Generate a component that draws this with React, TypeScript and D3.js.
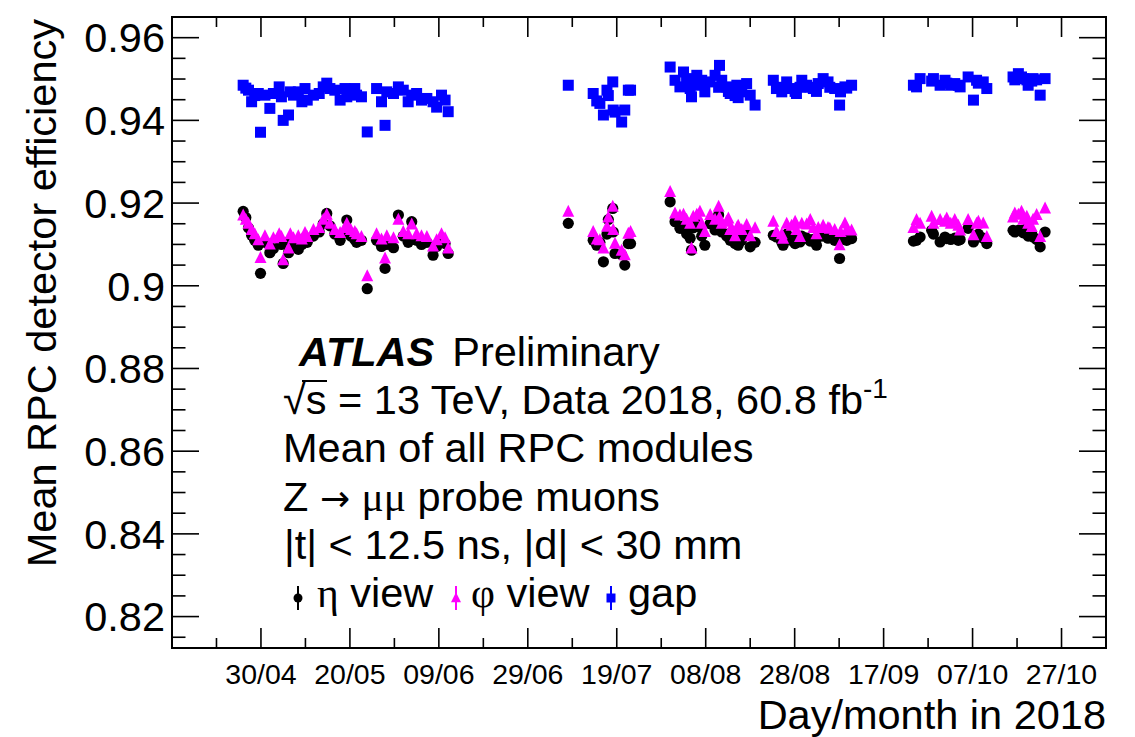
import React from "react";
import * as d3 from "d3";

// Run times as day-of-year 2018 (fractional part = time within the day)
const runDay: number[] = [
  116.0, 116.6, 117.2, 117.9, 118.6, 119.4, 119.9, 120.9, 122.0, 122.8,
  124.1, 124.6, 125.0, 126.2, 126.6, 127.3, 128.4, 129.2, 129.9, 130.4,
  131.8, 133.1, 134.0, 134.8, 135.5, 136.6, 137.8, 138.9, 139.3, 140.2,
  141.1, 141.5, 142.6, 143.9, 146.0, 147.1, 147.9, 148.3, 149.8, 150.9,
  152.0, 153.1, 153.9, 155.0, 156.1, 157.3, 158.7, 159.5, 160.6, 161.4,
  162.1,
  189.1, 194.7, 195.5, 196.2, 197.0, 197.8, 198.1, 199.1, 199.2, 199.6,
  201.1, 201.8, 202.6, 203.1,
  212.0, 213.1, 214.2, 215.0, 215.7, 216.5, 216.8, 217.2, 218.0, 218.7,
  219.1, 219.8, 221.0, 222.1, 222.9, 223.1, 223.6, 224.7, 225.1, 225.5,
  225.8, 226.6, 227.0, 227.3, 228.1, 229.2, 230.0, 231.1,
  235.2, 235.9, 237.1, 237.4, 238.2, 239.3, 240.1, 240.4, 241.2, 241.6,
  242.7, 243.5, 244.2, 244.9, 245.3, 246.4, 247.5, 247.9, 249.0, 250.1,
  250.3, 251.3, 251.7, 252.8,
  266.7, 267.4, 268.2, 270.8, 271.2, 272.7, 273.8, 274.2, 275.1, 276.0,
  276.8, 277.2, 279.0, 280.2, 280.9, 281.3, 282.4, 283.2,
  289.1, 289.5, 290.3, 291.0, 291.4, 292.2, 292.5, 293.3, 293.6, 294.4,
  295.2, 296.3,
];

// Mean efficiency, eta strips
const etaEff: number[] = [
  0.918, 0.9165, 0.914, 0.9122, 0.911, 0.9098, 0.903, 0.9105, 0.908, 0.909,
  0.9112, 0.91, 0.9054, 0.908, 0.911, 0.9095, 0.9088, 0.91, 0.9115, 0.9105,
  0.912, 0.913, 0.915, 0.9175, 0.9145, 0.9125, 0.911, 0.9128, 0.9159, 0.912,
  0.9112, 0.9105, 0.911, 0.8993, 0.911, 0.9095, 0.9042, 0.91, 0.9092, 0.9171,
  0.912, 0.9105, 0.9155, 0.911, 0.91, 0.9105, 0.9074, 0.9095, 0.911, 0.9102,
  0.9078,
  0.9151, 0.911, 0.9098, 0.9105, 0.9058, 0.9125, 0.916, 0.9187, 0.913, 0.9078,
  0.9075, 0.905, 0.9102, 0.9102,
  0.9203, 0.9155, 0.9139, 0.9145, 0.9126, 0.9115, 0.9086, 0.914, 0.915, 0.9142,
  0.912, 0.9098, 0.915, 0.9135, 0.9171, 0.914, 0.913, 0.912, 0.9125, 0.911,
  0.9115, 0.9102, 0.912, 0.9098, 0.911, 0.9126, 0.9094, 0.9105,
  0.9122, 0.9118, 0.9105, 0.9098, 0.9125, 0.911, 0.9102, 0.9112, 0.9106, 0.912,
  0.9115, 0.9108, 0.9112, 0.9098, 0.9118, 0.912, 0.9115, 0.9122, 0.911, 0.9066,
  0.9112, 0.9115, 0.911, 0.9114,
  0.9108, 0.911, 0.9118, 0.9134, 0.9125, 0.9106, 0.9118, 0.9114, 0.9112, 0.9115,
  0.911, 0.9112, 0.9139, 0.9106, 0.912, 0.9125, 0.9115, 0.9102,
  0.9134, 0.913, 0.9134, 0.9134, 0.9128, 0.9139, 0.912, 0.9126, 0.9118, 0.9112,
  0.9094, 0.913,
];

// Mean efficiency, phi strips
const phiEff: number[] = [
  0.917, 0.916, 0.915, 0.9135, 0.9125, 0.911, 0.9067, 0.912, 0.91, 0.9115,
  0.9125, 0.9118, 0.9062, 0.909, 0.9125, 0.9115, 0.912, 0.9112, 0.9128, 0.9118,
  0.9135, 0.914, 0.916, 0.9172, 0.915, 0.9135, 0.9128, 0.914, 0.915, 0.9135,
  0.913, 0.9125, 0.9118, 0.9023, 0.9125, 0.9112, 0.9066, 0.912, 0.9115, 0.916,
  0.913, 0.9125, 0.9148, 0.9125, 0.912, 0.9118, 0.9095, 0.911, 0.9125, 0.9115,
  0.909,
  0.9179, 0.913, 0.9112, 0.911, 0.909, 0.9143, 0.9165, 0.9191, 0.9135, 0.9102,
  0.9085, 0.9074, 0.9126, 0.913,
  0.9227, 0.9175, 0.917, 0.9172, 0.916, 0.915, 0.909, 0.9167, 0.9172, 0.9179,
  0.915, 0.913, 0.9171, 0.916, 0.9191, 0.9165, 0.915, 0.9155, 0.9163, 0.9135,
  0.914, 0.912, 0.914, 0.9145, 0.9135, 0.9147, 0.912, 0.9139,
  0.9155, 0.913, 0.9125, 0.9114, 0.915, 0.9145, 0.9155, 0.9135, 0.9118, 0.915,
  0.9148, 0.9159, 0.914, 0.9125, 0.914, 0.9145, 0.914, 0.9138, 0.9135, 0.9098,
  0.913, 0.9151, 0.9135, 0.9134,
  0.914, 0.9159, 0.915, 0.9167, 0.915, 0.9159, 0.9155, 0.9163, 0.915, 0.9159,
  0.9145, 0.9134, 0.9159, 0.9122, 0.915, 0.9155, 0.9151, 0.9118,
  0.9165, 0.9175, 0.9172, 0.9179, 0.916, 0.9167, 0.915, 0.9142, 0.916, 0.9171,
  0.9118, 0.9187,
];

// Mean efficiency, gas gap
const gapEff: number[] = [
  0.9485, 0.9478, 0.9473, 0.9445, 0.946, 0.9465, 0.9371, 0.9461, 0.9429, 0.9465,
  0.9481, 0.9457, 0.94, 0.9413, 0.9469, 0.9461, 0.9469, 0.9445, 0.9477, 0.9449,
  0.9461, 0.9465, 0.9481, 0.949, 0.9477, 0.9473, 0.9449, 0.9477, 0.9457, 0.947,
  0.9477, 0.9461, 0.9457, 0.9372, 0.9477, 0.9445, 0.9388, 0.9469, 0.9465, 0.9481,
  0.9473, 0.9445, 0.9461, 0.9465, 0.9449, 0.9453, 0.9445, 0.9432, 0.9461, 0.9449,
  0.9421,
  0.9485, 0.9465, 0.9447, 0.9441, 0.9413, 0.9473, 0.946, 0.9493, 0.9425, 0.942,
  0.9396, 0.9425, 0.9473, 0.9473,
  0.9529, 0.9497, 0.9481, 0.9517, 0.9501, 0.9477, 0.9457, 0.949, 0.9509, 0.9485,
  0.9497, 0.9469, 0.9493, 0.9509, 0.948, 0.9533, 0.9497, 0.9481, 0.947, 0.9465,
  0.9473, 0.946, 0.9485, 0.9455, 0.9469, 0.9489, 0.9461, 0.9437,
  0.9497, 0.9477, 0.9469, 0.948, 0.9493, 0.9477, 0.947, 0.9465, 0.948, 0.9497,
  0.9485, 0.948, 0.9477, 0.947, 0.9489, 0.9501, 0.9493, 0.948, 0.9477, 0.9437,
  0.9469, 0.9481, 0.9478, 0.9485,
  0.9485, 0.9481, 0.9501, 0.9495, 0.9501, 0.9485, 0.9497, 0.949, 0.9485, 0.9489,
  0.9485, 0.9481, 0.9505, 0.9449, 0.9497, 0.949, 0.9493, 0.9477,
  0.9505, 0.9498, 0.9513, 0.9505, 0.9501, 0.9498, 0.9485, 0.9495, 0.9501, 0.9498,
  0.9461, 0.9501,
];

const xTickLabels: string[] = [
  "30/04", "20/05", "09/06", "29/06", "19/07", "08/08", "28/08", "17/09", "07/10", "27/10",
];
const yTickValues: number[] = [0.82, 0.84, 0.86, 0.88, 0.9, 0.92, 0.94, 0.96];
const yTickLabels: string[] = ["0.82", "0.84", "0.86", "0.88", "0.9", "0.92", "0.94", "0.96"];

const W = 1135;
const H = 737;
const F = { x0: 172, x1: 1106, y0: 17, y1: 648 };
const SANS = "'Liberation Sans', Arial, Helvetica, sans-serif";
const SERIF = "'Liberation Serif', 'Times New Roman', serif";

const ETA_COLOR = "#000000";
const PHI_COLOR = "#ff00ff";
const GAP_COLOR = "#0000ff";

const dayToDate = (d: number) => new Date(Date.UTC(2018, 0, 1) + (d - 1) * 864e5);
const parseLabel = (s: string) => {
  const [dd, mm] = s.split("/").map(Number);
  return new Date(Date.UTC(2018, mm - 1, dd));
};

const squarePath = (cx: number, cy: number, s: number) =>
  `M${cx - s / 2},${cy - s / 2}h${s}v${s}h${-s}Z`;
const trianglePath = (cx: number, cy: number, w: number) =>
  `M${cx},${cy - w * 0.58}L${cx + w / 2},${cy + w * 0.42}L${cx - w / 2},${cy + w * 0.42}Z`;

export default function App() {
  const x = d3
    .scaleUtc()
    .domain([new Date(Date.UTC(2018, 3, 10)), new Date(Date.UTC(2018, 10, 6))])
    .range([F.x0, F.x1]);
  const y = d3.scaleLinear().domain([0.8124, 0.965]).range([F.y1, F.y0]);

  const xStart = x.domain()[0];
  const xMajor = xTickLabels.map(parseLabel);
  const majorSet = new Set(xMajor.map((d) => +d));
  const xMinor = d3
    .range(1, 21)
    .map((k) => d3.utcDay.offset(xStart, 10 * k))
    .filter((d) => !majorSet.has(+d));

  const yMinor = d3
    .range(163, 194)
    .map((k) => +(k * 0.005).toFixed(3))
    .filter((v) => v >= y.domain()[0] && v <= y.domain()[1])
    .filter((v) => !yTickValues.some((t) => Math.abs(t - v) < 1e-6));

  const pts = runDay.map((d, i) => ({
    x: x(dayToDate(d)),
    eta: y(etaEff[i]),
    phi: y(phiEff[i]),
    gap: y(gapEff[i]),
  }));

  const tickStroke = { stroke: "#000", strokeWidth: 1.6 };
  const TX = 283;
  const lineY = [366, 414, 462, 511, 559, 607];
  const fs = 41.5;

  return (
    <svg
      width={W}
      height={H}
      viewBox={`0 0 ${W} ${H}`}
      style={{ position: "absolute", left: 0, top: 0, display: "block", background: "#fff" }}
    >
      <rect x={0} y={0} width={W} height={H} fill="#fff" />

      {/* markers */}
      <g>
        {pts.map((p, i) => (
          <path key={`g${i}`} d={squarePath(p.x, p.gap, 11)} fill={GAP_COLOR} />
        ))}
        {pts.map((p, i) => (
          <circle key={`e${i}`} cx={p.x} cy={p.eta} r={5.6} fill={ETA_COLOR} />
        ))}
        {pts.map((p, i) => (
          <path key={`p${i}`} d={trianglePath(p.x, p.phi, 12)} fill={PHI_COLOR} />
        ))}
      </g>

      {/* frame */}
      <rect
        x={F.x0}
        y={F.y0}
        width={F.x1 - F.x0}
        height={F.y1 - F.y0}
        fill="none"
        stroke="#000"
        strokeWidth={2}
      />

      {/* y ticks, left and right */}
      <g>
        {yTickValues.map((v) => (
          <g key={`ym${v}`}>
            <line x1={F.x0} x2={F.x0 + 27} y1={y(v)} y2={y(v)} {...tickStroke} />
            <line x1={F.x1} x2={F.x1 - 27} y1={y(v)} y2={y(v)} {...tickStroke} />
          </g>
        ))}
        {yMinor.map((v) => (
          <g key={`yn${v}`}>
            <line x1={F.x0} x2={F.x0 + 13.5} y1={y(v)} y2={y(v)} {...tickStroke} />
            <line x1={F.x1} x2={F.x1 - 13.5} y1={y(v)} y2={y(v)} {...tickStroke} />
          </g>
        ))}
        {yTickValues.map((v, i) => (
          <text
            key={`yl${v}`}
            x={165}
            y={y(v) + 14.8}
            textAnchor="end"
            fontFamily={SANS}
            fontSize={fs}
          >
            {yTickLabels[i]}
          </text>
        ))}
      </g>

      {/* x ticks, bottom and top */}
      <g>
        {xMajor.map((d, i) => (
          <g key={`xm${i}`}>
            <line x1={x(d)} x2={x(d)} y1={F.y1} y2={F.y1 - 20} {...tickStroke} />
            <line x1={x(d)} x2={x(d)} y1={F.y0} y2={F.y0 + 20} {...tickStroke} />
          </g>
        ))}
        {xMinor.map((d, i) => (
          <g key={`xn${i}`}>
            <line x1={x(d)} x2={x(d)} y1={F.y1} y2={F.y1 - 10} {...tickStroke} />
            <line x1={x(d)} x2={x(d)} y1={F.y0} y2={F.y0 + 10} {...tickStroke} />
          </g>
        ))}
        {xMajor.map((d, i) => (
          <text
            key={`xl${i}`}
            x={x(d)}
            y={684}
            textAnchor="middle"
            fontFamily={SANS}
            fontSize={28.5}
          >
            {xTickLabels[i]}
          </text>
        ))}
      </g>

      {/* axis titles */}
      <text
        x={F.x1}
        y={729}
        textAnchor="end"
        fontFamily={SANS}
        fontSize={fs}
      >
        Day/month in 2018
      </text>
      <text
        transform={`translate(56, 19) rotate(-90)`}
        textAnchor="end"
        fontFamily={SANS}
        fontSize={fs}
      >
        Mean RPC detector efficiency
      </text>

      {/* annotation block */}
      <g fontFamily={SANS} fontSize={fs} fill="#000">
        <text x={299} y={lineY[0]}>
          <tspan fontWeight="bold" fontStyle="italic">ATLAS</tspan>
          <tspan dx={18}>Preliminary</tspan>
        </text>
        <text x={TX} y={lineY[1]}>
          <tspan>√</tspan>
          <tspan>s = 13 TeV, Data 2018, 60.8 fb</tspan>
          <tspan dy={-16} fontSize={28}>-1</tspan>
        </text>
        <line x1={TX + 19} x2={TX + 44} y1={lineY[1] - 33} y2={lineY[1] - 33} stroke="#000" strokeWidth={2} />
        <text x={TX} y={lineY[2]}>Mean of all RPC modules</text>
        <text x={TX} y={lineY[3]}>
          <tspan>Z </tspan>
          <tspan fontFamily="'DejaVu Sans', sans-serif" fontSize={36}>→</tspan>
          <tspan> </tspan>
          <tspan fontFamily={SERIF}>μμ</tspan>
          <tspan> probe muons</tspan>
        </text>
        <text x={TX + 1} y={lineY[4]}>|t| &lt; 12.5 ns, |d| &lt; 30 mm</text>

        {/* legend */}
        <g>
          <line x1={298} x2={298} y1={lineY[5] - 21} y2={lineY[5] + 3} stroke={ETA_COLOR} strokeWidth={2} />
          <circle cx={298} cy={lineY[5] - 9} r={4.5} fill={ETA_COLOR} />
          <text x={317} y={lineY[5]}>
            <tspan fontFamily={SERIF}>η</tspan>
            <tspan> view</tspan>
          </text>
          <line x1={456} x2={456} y1={lineY[5] - 21} y2={lineY[5] + 3} stroke={PHI_COLOR} strokeWidth={2} />
          <path d={trianglePath(456, lineY[5] - 9, 10)} fill={PHI_COLOR} />
          <text x={471} y={lineY[5]}>
            <tspan fontFamily={SERIF}>φ</tspan>
            <tspan> view</tspan>
          </text>
          <line x1={611} x2={611} y1={lineY[5] - 21} y2={lineY[5] + 3} stroke={GAP_COLOR} strokeWidth={2} />
          <path d={squarePath(611, lineY[5] - 9, 9)} fill={GAP_COLOR} />
          <text x={628} y={lineY[5]}>gap</text>
        </g>
      </g>
    </svg>
  );
}
